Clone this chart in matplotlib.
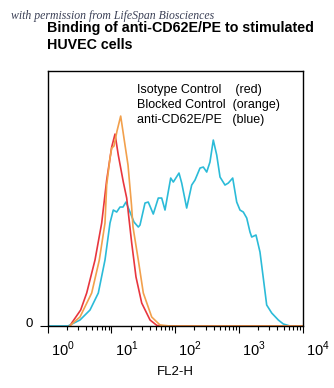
import matplotlib
matplotlib.use("Agg")
import matplotlib.pyplot as plt
import matplotlib.transforms as mtransforms

plt.rcParams['font.family'] = ['Liberation Sans', 'DejaVu Sans']
plt.rcParams['mathtext.fontset'] = 'custom'
plt.rcParams['mathtext.rm'] = 'Liberation Sans'

# FL2-H channel values and event counts
red_x = [2.24, 2.38, 3.29, 4.09, 5.52, 7.03, 8.42, 10.09, 11.37, 12.80, 15.35,
         17.34, 20.78, 24.27, 29.83, 40.3, 51.8, 69.2, 10000]
red_y = [0, 3, 16, 33, 66, 103, 146, 179, 192, 171, 144, 128, 83, 49, 23, 6,
         0.5, 0, 0]

orange_x = [2.2, 3.21, 4.90, 6.45, 7.92, 8.42, 9.49, 10.09, 10.96, 12.22, 13.96,
            16.32, 18.19, 20.63, 21.78, 26.38, 31.6, 42.8, 57.8, 82.8, 10000]
orange_y = [0, 9, 33, 66, 103, 141, 168, 178, 180, 195, 210, 181, 161, 121, 99,
            66, 33, 9, 1, 0, 0]

blue_x = [1.0, 2.08, 3.21, 4.61, 6.22, 7.92, 9.49, 10.69, 12.08, 13.62, 15.17,
          16.91, 19.54, 22.58, 26.39, 28.05, 33.6, 37.8, 45.3, 54.3, 61.4, 69.2,
          85.0, 93.4, 114.7, 126.5, 151.4, 181.4, 204.5, 245, 276, 312, 351,
          396, 448, 505, 604, 681, 798, 922, 1038, 1170, 1324, 1490, 1585,
          1851, 2137, 2409, 2723, 3264, 4144, 4966, 6323, 10000]
blue_y = [0, 0, 6, 16, 33, 66, 103, 116, 114, 119, 119, 124, 114, 104, 99, 101,
          123, 124, 112, 128, 128, 116, 148, 144, 153, 143, 118, 141, 146, 158,
          159, 154, 164, 186, 171, 149, 141, 143, 148, 124, 116, 114, 108, 94,
          89, 91, 74, 48, 21, 13, 6, 2, 0, 0]

legend_lines = ["Isotype Control    (red)",
                "Blocked Control  (orange)",
                "anti-CD62E/PE   (blue)"]
xtick_vals = [1, 10, 100, 1000, 10000]
xtick_labels = ["$10^0$", "$10^1$", "$10^2$", "$10^3$", "$10^4$"]

fig = plt.figure(figsize=(3.34, 3.88), dpi=100)
ax = fig.add_axes([0.1428, 0.1598, 0.7635, 0.657])

ax.plot(blue_x, blue_y, color='#2bbbd8', lw=1.2)
ax.plot(red_x, red_y, color='#e8363e', lw=1.2)
ax.plot(orange_x, orange_y, color='#f2a04c', lw=1.2)

ax.set_xscale('log')
ax.set_xlim(1, 10000)
ax.set_ylim(0, 255)
ax.set_xticks(xtick_vals)
ax.set_xticklabels(xtick_labels, fontsize=10.5)
ax.set_yticks([0])
ax.set_yticklabels(["0"], fontsize=9.5)
ax.tick_params(axis='x', which='major', length=5, width=0.8, pad=5)
ax.tick_params(axis='x', which='minor', length=3, width=0.8)
ax.tick_params(axis='y', length=6, width=0.8, pad=5)
for s in ax.spines.values():
    s.set_linewidth(1.0)

# labels in the original sit a bit right of their ticks
shift = mtransforms.ScaledTranslation(0.15, 0, fig.dpi_scale_trans)
for lab in ax.get_xticklabels():
    lab.set_transform(lab.get_transform() + shift)
yshift = mtransforms.ScaledTranslation(0, 0.03, fig.dpi_scale_trans)
for lab in ax.get_yticklabels():
    lab.set_transform(lab.get_transform() + yshift)

ax.set_xlabel("FL2-H", fontsize=9.5, labelpad=5)

for i, t in enumerate(legend_lines):
    ax.text(0.35, 0.925 - i * 0.058, t, transform=ax.transAxes,
            fontsize=9, va='center', ha='left')

fig.text(0.032, 0.95, "with permission from LifeSpan Biosciences",
         family='Liberation Serif', style='italic', fontsize=8.5,
         color='#3a3f55', va='baseline')
fig.text(0.14, 0.873, "Binding of anti-CD62E/PE to stimulated\nHUVEC cells",
         fontsize=10.3, fontweight='bold', va='baseline', ha='left',
         linespacing=1.3)

fig.savefig("out.png", dpi=100)
